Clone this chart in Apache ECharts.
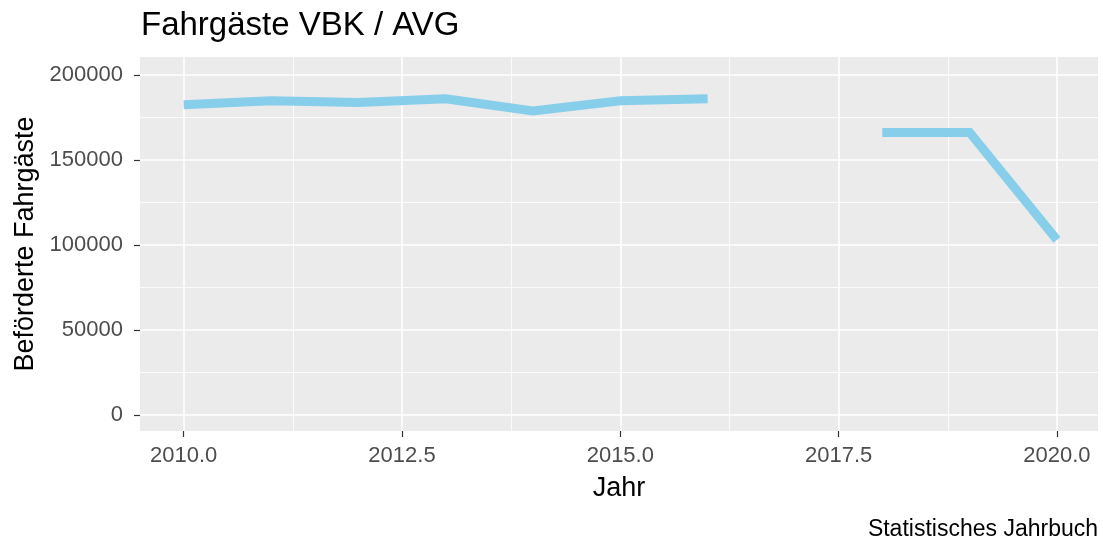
<!DOCTYPE html>
<html>
<head>
<meta charset="utf-8">
<script src="https://cdn.jsdelivr.net/npm/echarts@6/dist/echarts.min.js"></script>
<style>
  html, body { margin: 0; padding: 0; background: #fff; }
  #main { width: 1103px; height: 542px; }
</style>
</head>
<body>
<div id="main"></div>
<script>
// Jahre und Fahrgastzahlen (2017 fehlt)
const years = [2010, 2011, 2012, 2013, 2014, 2015, 2016, 2017, 2018, 2019, 2020];
const passengers = [182500, 184800, 183800, 186000, 178900, 184800, 186000, null, 166200, 166200, 103000];

const xMajor = [2010, 2012.5, 2015, 2017.5, 2020];
const xMinor = [2011.25, 2013.75, 2016.25, 2018.75];
const yMajor = [0, 50000, 100000, 150000, 200000];
const yMinor = [25000, 75000, 125000, 175000];

let myChart = echarts.init(document.getElementById('main'));

const font = 'Liberation Sans, Arial, sans-serif';
const xMin = 2009.5, xMax = 2020.47;
const yMin = -9400, yMax = 210600;

myChart.setOption({
   backgroundColor: '#ffffff',
   animation: false,
   grid: {
      left: 140, right: 5, top: 57, bottom: 111,
      show: true, backgroundColor: '#EBEBEB', borderWidth: 0
   },
   graphic: [{
      type: 'text',
      x: 141, y: 26,
      style: {
         text: 'Fahrgäste VBK / AVG', font: '33px ' + font, fill: '#000',
         align: 'left', verticalAlign: 'middle'
      }
   }, {
      type: 'text',
      x: 1098, y: 530,
      style: {
         text: 'Statistisches Jahrbuch', font: '23px ' + font, fill: '#000',
         align: 'right', verticalAlign: 'middle'
      }
   }],
   xAxis: [{
      type: 'value', min: xMin, max: xMax,
      name: 'Jahr', nameLocation: 'middle', nameGap: 44,
      nameTextStyle: { fontFamily: font, fontSize: 27, color: '#000' },
      axisLine: { show: false, onZero: false },
      axisTick: { show: true, length: 6, customValues: xMajor, lineStyle: { color: '#333', width: 1.2 } },
      axisLabel: {
         customValues: xMajor, margin: 14,
         fontFamily: font, fontSize: 22, color: '#4D4D4D',
         formatter: v => v.toFixed(1)
      },
      splitLine: { show: true, lineStyle: { color: '#fff', width: 1.6 } }
   }, {
      type: 'value', min: xMin, max: xMax, position: 'bottom',
      axisLine: { show: false, onZero: false },
      axisTick: { show: false, customValues: xMinor },
      axisLabel: { show: false, customValues: xMinor },
      splitLine: { show: true, lineStyle: { color: '#fff', width: 0.8 } }
   }],
   yAxis: [{
      type: 'value', min: yMin, max: yMax,
      name: 'Beförderte Fahrgäste', nameLocation: 'middle', nameGap: 100,
      nameTextStyle: { fontFamily: font, fontSize: 27, color: '#000' },
      axisLine: { show: false, onZero: false },
      axisTick: { show: true, length: 6, customValues: yMajor, lineStyle: { color: '#333', width: 1.2 } },
      axisLabel: {
         customValues: yMajor, margin: 17,
         fontFamily: font, fontSize: 22, color: '#4D4D4D',
         formatter: v => String(v)
      },
      splitLine: { show: true, lineStyle: { color: '#fff', width: 1.6 } }
   }, {
      type: 'value', min: yMin, max: yMax, position: 'left',
      axisLine: { show: false, onZero: false },
      axisTick: { show: false, customValues: yMinor },
      axisLabel: { show: false, customValues: yMinor },
      splitLine: { show: true, lineStyle: { color: '#fff', width: 0.8 } }
   }],
   series: [{
      type: 'line',
      data: years.map((y, i) => [y, passengers[i]]),
      showSymbol: false,
      connectNulls: false,
      lineStyle: { color: '#87CEEB', width: 9, cap: 'butt', join: 'miter' },
      z: 5
   }]
});
</script>
</body>
</html>
